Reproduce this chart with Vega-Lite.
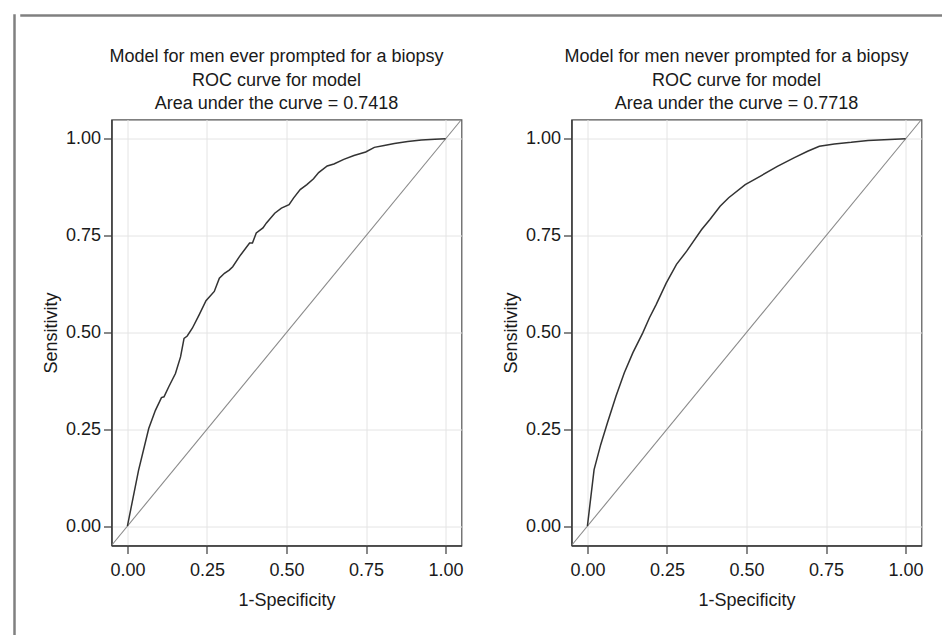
{
  "$schema": "https://vega.github.io/schema/vega-lite/v6.json",
  "padding": {"left": 11, "top": 12, "right": 0, "bottom": 0},
  "background": "white",
  "datasets": {
    "roc1": [
      {"fpr": 0, "sens": 0},
      {"fpr": 0.035, "sens": 0.144},
      {"fpr": 0.067, "sens": 0.252},
      {"fpr": 0.088, "sens": 0.299},
      {"fpr": 0.107, "sens": 0.332},
      {"fpr": 0.115, "sens": 0.334},
      {"fpr": 0.13, "sens": 0.36},
      {"fpr": 0.151, "sens": 0.394},
      {"fpr": 0.167, "sens": 0.437},
      {"fpr": 0.178, "sens": 0.485},
      {"fpr": 0.188, "sens": 0.491},
      {"fpr": 0.204, "sens": 0.511},
      {"fpr": 0.225, "sens": 0.545},
      {"fpr": 0.247, "sens": 0.582},
      {"fpr": 0.273, "sens": 0.606},
      {"fpr": 0.289, "sens": 0.64},
      {"fpr": 0.305, "sens": 0.653},
      {"fpr": 0.32, "sens": 0.661},
      {"fpr": 0.331, "sens": 0.67},
      {"fpr": 0.352, "sens": 0.696},
      {"fpr": 0.384, "sens": 0.731},
      {"fpr": 0.393, "sens": 0.731},
      {"fpr": 0.405, "sens": 0.757},
      {"fpr": 0.426, "sens": 0.77},
      {"fpr": 0.437, "sens": 0.783},
      {"fpr": 0.463, "sens": 0.808},
      {"fpr": 0.484, "sens": 0.821},
      {"fpr": 0.508, "sens": 0.83},
      {"fpr": 0.522, "sens": 0.847},
      {"fpr": 0.543, "sens": 0.869},
      {"fpr": 0.564, "sens": 0.882},
      {"fpr": 0.585, "sens": 0.897},
      {"fpr": 0.601, "sens": 0.913},
      {"fpr": 0.628, "sens": 0.93},
      {"fpr": 0.649, "sens": 0.935},
      {"fpr": 0.68, "sens": 0.947},
      {"fpr": 0.712, "sens": 0.957},
      {"fpr": 0.749, "sens": 0.966},
      {"fpr": 0.776, "sens": 0.978},
      {"fpr": 0.807, "sens": 0.983},
      {"fpr": 0.839, "sens": 0.988},
      {"fpr": 0.881, "sens": 0.993},
      {"fpr": 0.924, "sens": 0.997},
      {"fpr": 0.966, "sens": 0.999},
      {"fpr": 1, "sens": 1}
    ],
    "roc2": [
      {"fpr": 0, "sens": 0},
      {"fpr": 0.011, "sens": 0.077},
      {"fpr": 0.021, "sens": 0.146},
      {"fpr": 0.042, "sens": 0.211},
      {"fpr": 0.063, "sens": 0.267},
      {"fpr": 0.09, "sens": 0.336},
      {"fpr": 0.116, "sens": 0.396},
      {"fpr": 0.143, "sens": 0.448},
      {"fpr": 0.174, "sens": 0.499},
      {"fpr": 0.195, "sens": 0.538},
      {"fpr": 0.216, "sens": 0.572},
      {"fpr": 0.248, "sens": 0.628},
      {"fpr": 0.28, "sens": 0.676},
      {"fpr": 0.312, "sens": 0.71},
      {"fpr": 0.359, "sens": 0.766},
      {"fpr": 0.385, "sens": 0.792},
      {"fpr": 0.417, "sens": 0.826},
      {"fpr": 0.444, "sens": 0.848},
      {"fpr": 0.496, "sens": 0.882},
      {"fpr": 0.544, "sens": 0.904},
      {"fpr": 0.597, "sens": 0.929},
      {"fpr": 0.649, "sens": 0.951},
      {"fpr": 0.692, "sens": 0.968},
      {"fpr": 0.729, "sens": 0.981},
      {"fpr": 0.776, "sens": 0.987},
      {"fpr": 0.829, "sens": 0.991},
      {"fpr": 0.882, "sens": 0.996},
      {"fpr": 1, "sens": 1}
    ],
    "diag": [
      {"fpr": -0.05, "sens": -0.05},
      {"fpr": 1.05, "sens": 1.05}
    ],
    "blank": [{"a": 0}]
  },
  "config": {
    "font": "Liberation Sans",
    "axis": {
      "labelFont": "Liberation Sans",
      "titleFont": "Liberation Sans",
      "labelFontSize": 18,
      "titleFontSize": 18,
      "titleFontWeight": "normal",
      "labelColor": "#1a1a1a",
      "titleColor": "#1a1a1a",
      "domainColor": "#3a3a3a",
      "domainWidth": 1.5,
      "tickColor": "#3a3a3a",
      "tickWidth": 1.2,
      "tickSize": 8,
      "gridColor": "#e4e4e4",
      "gridWidth": 1
    },
    "axisX": {"labelPadding": 8, "titlePadding": 12},
    "axisY": {"labelPadding": 3, "titlePadding": 4.5}
  },
  "hconcat": [
    {
      "data": {"name": "blank"},
      "width": 1,
      "height": 622,
      "view": {"stroke": "#808080", "strokeWidth": 1.5, "fill": null},
      "mark": {"type": "point", "opacity": 0}
    },
    {
      "vconcat": [
        {
          "data": {"name": "blank"},
          "width": 930,
          "height": 1,
          "view": {"stroke": "#808080", "strokeWidth": 1.5, "fill": null},
          "mark": {"type": "point", "opacity": 0}
        },
        {
          "hconcat": [
            {
              "data": {"name": "blank"},
              "width": 1,
              "height": 1,
              "view": {"stroke": null},
              "mark": {"type": "point", "opacity": 0}
            },
            {
              "hconcat": [
                {
                  "width": 350,
                  "height": 426,
                  "view": {"stroke": "#555555", "strokeWidth": 1.2},
                  "title": {
                    "text": ["Model for men ever prompted for a biopsy", "ROC curve for model", "Area under the curve = 0.7418"],
                    "fontSize": 18,
                    "fontWeight": "normal",
                    "font": "Liberation Sans",
                    "color": "#1a1a1a",
                    "lineHeight": 23.5,
                    "frame": "group",
                    "anchor": "middle",
                    "dx": -10,
                    "offset": 6.5
                  },
                  "encoding": {
                    "x": {"field": "fpr", "type": "quantitative", "title": "1-Specificity",
                          "scale": {"domain": [-0.05, 1.05], "nice": false, "zero": false},
                          "axis": {"values": [0, 0.25, 0.5, 0.75, 1], "format": ".2f"}},
                    "y": {"field": "sens", "type": "quantitative", "title": "Sensitivity",
                          "scale": {"domain": [-0.05, 1.05], "nice": false, "zero": false},
                          "axis": {"values": [0, 0.25, 0.5, 0.75, 1], "format": ".2f"}}
                  },
                  "layer": [
                    {"data": {"name": "diag"}, "mark": {"type": "line", "color": "#8a8a8a", "strokeWidth": 1.1, "clip": true}},
                    {"data": {"name": "roc1"}, "mark": {"type": "line", "color": "#333333", "strokeWidth": 1.5}}
                  ]
                },
                {
                  "width": 350,
                  "height": 426,
                  "view": {"stroke": "#555555", "strokeWidth": 1.2},
                  "title": {
                    "text": ["Model for men never prompted for a biopsy", "ROC curve for model", "Area under the curve = 0.7718"],
                    "fontSize": 18,
                    "fontWeight": "normal",
                    "font": "Liberation Sans",
                    "color": "#1a1a1a",
                    "lineHeight": 23.5,
                    "frame": "group",
                    "anchor": "middle",
                    "dx": -10,
                    "offset": 6.5
                  },
                  "encoding": {
                    "x": {"field": "fpr", "type": "quantitative", "title": "1-Specificity",
                          "scale": {"domain": [-0.05, 1.05], "nice": false, "zero": false},
                          "axis": {"values": [0, 0.25, 0.5, 0.75, 1], "format": ".2f"}},
                    "y": {"field": "sens", "type": "quantitative", "title": "Sensitivity",
                          "scale": {"domain": [-0.05, 1.05], "nice": false, "zero": false},
                          "axis": {"values": [0, 0.25, 0.5, 0.75, 1], "format": ".2f"}}
                  },
                  "layer": [
                    {"data": {"name": "diag"}, "mark": {"type": "line", "color": "#8a8a8a", "strokeWidth": 1.1, "clip": true}},
                    {"data": {"name": "roc2"}, "mark": {"type": "line", "color": "#333333", "strokeWidth": 1.5}}
                  ]
                }
              ],
              "spacing": 37
            }
          ],
          "spacing": 16.5
        }
      ],
      "spacing": 27.5
    }
  ],
  "spacing": 0
}
